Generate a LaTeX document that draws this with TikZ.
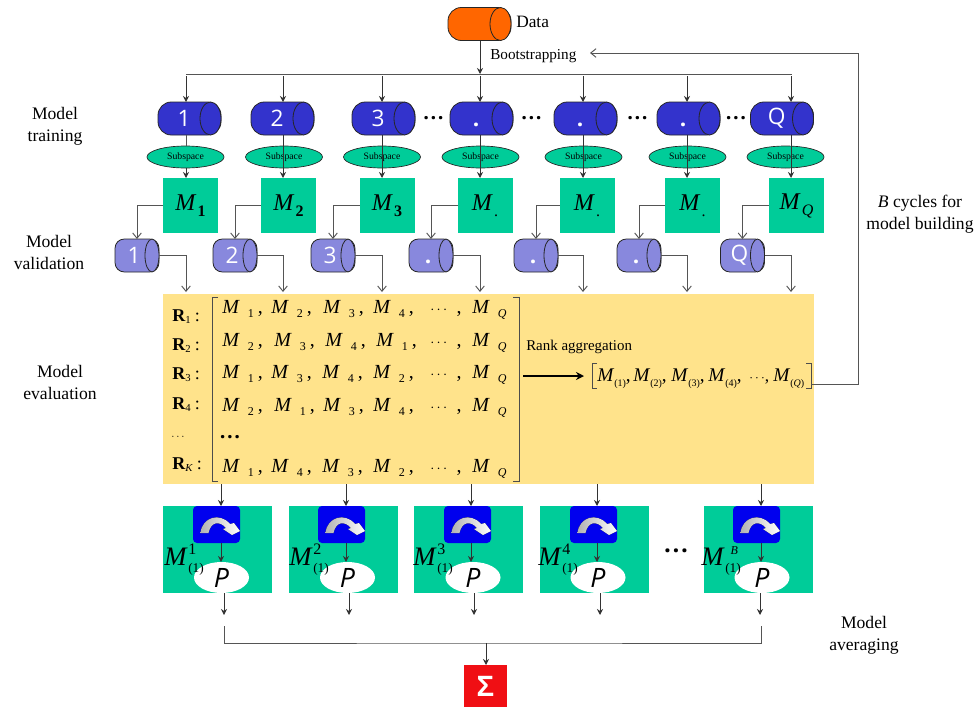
\documentclass[tikz,border=0pt]{standalone}
\usepackage{fontspec}
\setmainfont{Liberation Serif}
\newfontfamily\labelsans{Open Sans}
\newfontfamily\greeksans{Liberation Sans}
\usetikzlibrary{arrows.meta,shapes.geometric}
\definecolor{cOrange}{HTML}{FF6600}
\definecolor{cBlue}{HTML}{3333CC}
\definecolor{cLight}{HTML}{8888DD}
\definecolor{cGreen}{HTML}{00CC99}
\definecolor{cYellow}{HTML}{FFE38B}
\definecolor{cPure}{HTML}{0000EE}
\definecolor{cRed}{HTML}{F00F14}
\definecolor{cLine}{HTML}{555555}
\newcommand{\MS}[2]{\textit{M}\hspace{6pt}\raisebox{-3pt}{\fontsize{9}{9}\selectfont #1}#2}
\newcommand{\MP}[1]{\textit{M}\raisebox{-4pt}{\fontsize{7.5}{7.5}\selectfont(#1)}}
\newcommand{\ccm}{,}
\newcommand{\bdots}{{\labelsans\bfseries .\hspace{1.2pt}.\hspace{1.2pt}.}}
\newcommand{\capend}[3]{\draw[draw=black!85,line width=.6pt,fill=#3] ([xshift=-#2*0.75pt]#1.east) ellipse [x radius=#2*0.75pt,y radius=16.5*0.75pt];}
\tikzset{
 pxsize/.style 2 args={minimum width=#1*0.75pt,minimum height=#2*0.75pt},
 cyl/.style={rectangle,rounded corners=10pt,draw=black!85,line width=.6pt,inner sep=0pt,outer sep=0pt,
   pxsize={63}{33},text=white,font=\labelsans\fontsize{17}{17}\selectfont},
 topcyl/.style={cyl,fill=cBlue},
 valcyl/.style={cyl,fill=cLight,rounded corners=7pt,pxsize={44}{33}},
 subsp/.style={ellipse,draw=black!85,line width=.5pt,fill=cGreen,inner sep=0pt,outer sep=0pt,pxsize={77}{22},font=\fontsize{7.3}{7.3}\selectfont},
 gsq/.style={rectangle,fill=cGreen,inner sep=0pt,outer sep=0pt,pxsize={55}{55}},
 gbox/.style={rectangle,fill=cGreen,inner sep=0pt,outer sep=0pt,pxsize={109}{87}},
 bbox/.style={rectangle,rounded corners=3pt,fill=cPure,inner sep=0pt,outer sep=0pt,pxsize={47}{37}},
 pell/.style={ellipse,fill=white,inner sep=0pt,outer sep=0pt,pxsize={55}{31},font=\labelsans\itshape\fontsize{20}{20}\selectfont},
 lab/.style={align=center,font=\fontsize{13.2}{16.5}\selectfont,inner sep=0pt},
 mtext/.style={anchor=base west,inner sep=0pt,font=\fontsize{15}{15}\selectfont},
 rtext/.style={anchor=base west,inner sep=0pt,font=\fontsize{13.5}{13.5}\selectfont},
 ptext/.style={anchor=base west,inner sep=0pt,font=\fontsize{14.5}{14.5}\selectfont},
 blk/.style={draw=black!80,line width=.7pt,-{Stealth[length=4.5pt,width=4.5pt]}},
 gry/.style={draw=cLine,line width=.7pt,-{Straight Barb[length=4pt,width=6.5pt]}},
 pln/.style={draw=cLine,line width=.7pt},
 brk/.style={draw=black!70,line width=.7pt},
}
\begin{document}
\begin{tikzpicture}[x=0.75pt,y=-0.75pt]
\useasboundingbox (0,0) rectangle (979,711);
% yellow panel
\node[rectangle,fill=cYellow,inner sep=0pt,outer sep=0pt,pxsize={651}{190}] (panel) at (488.5,389) {};
% data
\node[cyl,fill=cOrange] (data) at (479.5,24) {};
\capend{data}{10.5}{cOrange}
\node[anchor=west,inner sep=0pt,font=\fontsize{13}{13}\selectfont] (datalab) at (516,22) {Data};
\node[anchor=west,inner sep=0pt,font=\fontsize{11.4}{11.4}\selectfont] (boot) at (490,56) {Bootstrapping};
\coordinate (busL) at (186,74);
\coordinate (busR) at (792,74);
\coordinate (busM) at (480,74);
\draw[pln] (busL) -- (busR);
\draw[blk] (data.south -| busM) -- (busM);
% top row
\foreach \i/\cx/\txt/\ax/\ex/\sx/\ms/\vx/\vt in {
 1/189.5/1/186/185.5/190.5/\textbf{1}/137/1,
 2/282.5/2/283/284/288.5/\textbf{2}/235/2,
 3/383.5/3/382/382/387/\textbf{3}/333/3,
 4/481.5/\textbf{.}/480/480.5/485/./431/\textbf{.},
 5/585.5/\textbf{.}/583/583.5/587/./536/\textbf{.},
 6/688.5/\textbf{.}/687/687.5/692.5/./639/\textbf{.},
 7/782/Q/791/785.5/796.5/\textit{Q}/742.5/Q}{
  \coordinate (b\i) at (\ax,76);
  \coordinate (o\i) at (\ax,292);
  \node[topcyl] (c\i) at (\cx,118.5) {\hspace{-8pt}\vphantom{1}\txt};
  \capend{c\i}{10.5}{cBlue}
  \node[subsp] (e\i) at (\ex,157) {Subspace};
  \node[gsq] (s\i) at (\sx,205.5) {\fontsize{18}{18}\selectfont\textit{M}\hspace{1pt}\raisebox{-4.5pt}{\fontsize{12}{12}\selectfont\ms}};
  \node[valcyl] (v\i) at (\vx,255.5) {\hspace{-4.5pt}\vphantom{1}\vt};
  \capend{v\i}{7}{cLight}
  \draw[blk] (b\i) -- (b\i |- c\i.north);
  \draw[gry] (s\i.west) -| (v\i.north);
  \draw[gry] (v\i.east) -| (o\i);
}
\draw[pln] (b1 |- c1.south) -- (b1 |- e1.north);
\draw[blk] (b1 |- e1.south) -- (b1 |- s1.north);
\foreach \i in {2,...,7}{ \draw[blk] (b\i |- c\i.south) -- (b\i |- s\i.north); }
% dots
\foreach \i/\xp in {1/433.5,2/531.5,3/637.5,4/736}{
  \node[inner sep=0pt,font=\fontsize{15}{15}\selectfont] (d\i) at (\xp,118) {\bdots};
}
\node[inner sep=0pt,font=\fontsize{18}{18}\selectfont] (d5) at (676,551) {\bdots};
% side labels
\node[lab] (l1) at (55,126) {Model\\training};
\node[lab] (l2) at (49,252) {Model\\validation};
\node[lab] (l3) at (60,382) {Model\\evaluation};
\node[lab] (l4) at (864,635) {Model\\averaging};
\node[lab] (l5) at (920,214) {\textit{B} cycles for\\model building};
% matrix rows
\foreach \rw/\yy/\pa/\sa/\pb/\sb/\pc/\sc/\pd/\sd in {
 1/313/222/1/271/2/323/3/373/4,
 2/346/222/2/274/3/325/4/376/1,
 3/378/222/1/271/3/322/4/373/2,
 4/411/222/2/274/1/323/3/373/4,
 6/472/222/1/271/4/322/3/373/2}{
  \node[mtext] (ma\rw) at (\pa,\yy) {\MS{\sa}{\hspace{3pt},}};
  \node[mtext] (mb\rw) at (\pb,\yy) {\MS{\sb}{\hspace{3pt},}};
  \node[mtext] (mc\rw) at (\pc,\yy) {\MS{\sc}{\hspace{3pt},}};
  \node[mtext] (md\rw) at (\pd,\yy) {\MS{\sd}{\hspace{3pt},}};
  \node[mtext] (me\rw) at (430,\yy) {\fontsize{11}{11}\selectfont$\cdots$\hspace{7pt}\fontsize{15}{15}\selectfont,};
  \node[mtext] (mq\rw) at (472,\yy) {\textit{M}\hspace{6pt}\raisebox{-3pt}{\fontsize{9}{9}\selectfont\textit{Q}}};
}
\foreach \rw/\yy/\st in {1/321/1,2/350/2,3/379/3,4/409/4,6/469/\textit{K}}{
  \node[rtext] (rl\rw) at (172,\yy) {\textbf{R}\raisebox{-2pt}{\fontsize{8}{8}\selectfont\st}\hspace{3pt}:};
}
\node[inner sep=0pt,font=\fontsize{8}{8}\selectfont] (rl5) at (178,437) {$\cdots$};
\node[inner sep=0pt,font=\fontsize{15}{15}\selectfont] (ml5) at (230,437) {\bdots};
% big brackets
\draw[brk] (218,297) -- (212,297) -- (212,481) -- (218,481);
\draw[brk] (513,297) -- (519,297) -- (519,481) -- (513,481);
% rank aggregation
\node[anchor=west,inner sep=0pt,font=\fontsize{11.2}{11.2}\selectfont] (rank) at (526,347) {Rank aggregation};
\coordinate (thA) at (523,376);
\coordinate (thB) at (584,376);
\draw[draw=black,line width=1.2pt,-{Stealth[length=6pt,width=6pt]}] (thA) -- (thB);
\draw[brk] (597,363) -- (592,363) -- (592,388) -- (597,388);
\draw[brk] (806,363) -- (811,363) -- (811,388) -- (806,388);
\foreach \n/\xp/\st/\en in {1/597/1/\ccm,2/633/2/\ccm,3/671/3/\ccm,4/708/4/\ccm,5/773/\textit{Q}/\relax}{
  \node[ptext] (pm\n) at (\xp,381) {\MP{\st}\en};
}
\node[ptext,font=\fontsize{10}{10}\selectfont] (pdots) at (749,381) {$\cdots$\fontsize{13}{13}\selectfont,};
% feedback
\coordinate (fbA) at (811,384);
\coordinate (fbB) at (858,384);
\coordinate (fbC) at (858,53);
\coordinate (fbD) at (590,53);
\draw[gry] (fbA) -- (fbB) -- (fbC) -- (fbD);
% lower boxes
\foreach \i/\bc/\bl/\ax/\pc/\ox/\lx/\suptxt in {
 1/217.5/216.5/221/221.5/224/164/1,
 2/343.5/341.5/346/347.5/349/289/2,
 3/468.5/467.5/471/473/474/413/3,
 4/594.5/593.5/597/598/600/538/4,
 5/758.5/756.5/761/762/760/701/{\fontsize{9}{9}\selectfont\hspace{4pt}\textit{B}}}{
  \node[gbox] (g\i) at (\bc,549.5) {};
  \node[bbox] (u\i) at (\bl,524.5) {};
  \node[pell] (p\i) at (\pc,577.5) {P};
  \coordinate (ya\i) at (\ax,484);
  \coordinate (yb\i) at (\ox,615);
  \node[anchor=base west,inner sep=0pt,font=\fontsize{20}{20}\selectfont] (ml\i) at (\lx,565) {\textit{M}};
  \node[anchor=base west,inner sep=0pt,font=\fontsize{12}{12}\selectfont] (sp\i) at (\lx+24,554) {\suptxt};
  \node[anchor=base west,inner sep=0pt,font=\fontsize{10}{10}\selectfont] (sb\i) at (\lx+24,572) {(1)};
  \draw[blk] (ya\i) -- (ya\i |- u\i.north);
  \draw[blk] (ya\i |- u\i.south) -- (ya\i |- p\i.north);
  \draw[blk] (yb\i |- p\i.south) -- (yb\i);
  % curved arrow on the blue box
  \fill[left color=black!30,right color=white]
    ([shift={(7.5,27)}]u\i.north west) .. controls ([shift={(9,11)}]u\i.north west) and ([shift={(27,6)}]u\i.north west) .. ([shift={(37,18)}]u\i.north west)
    -- ([shift={(41,17)}]u\i.north west) -- ([shift={(47,25)}]u\i.north west) -- ([shift={(39,29)}]u\i.north west) -- ([shift={(30,23)}]u\i.north west) -- ([shift={(33,22)}]u\i.north west)
    .. controls ([shift={(27,15)}]u\i.north west) and ([shift={(18,15)}]u\i.north west) .. ([shift={(15.5,27)}]u\i.north west) -- cycle;
}
% averaging
\coordinate (avL) at (224,626);
\coordinate (avR) at (761,626);
\coordinate (avM) at (486,643);
\draw[pln] (avL) |- (avM) -| (avR);
\node[rectangle,fill=cRed,inner sep=0pt,outer sep=0pt,pxsize={43}{42},text=white,font=\greeksans\bfseries\fontsize{22}{22}\selectfont] (sum) at (485.5,686) {Σ};
\draw[blk] (avM) -- (avM |- sum.north);
\end{tikzpicture}
\end{document}
